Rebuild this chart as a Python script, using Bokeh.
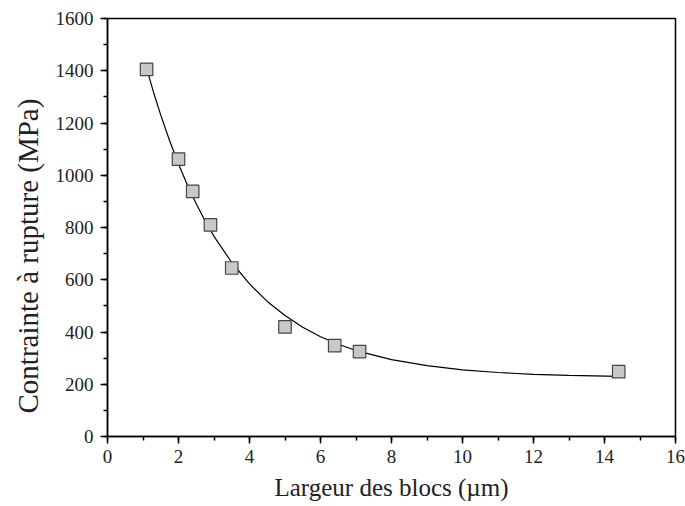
from bokeh.plotting import figure
from bokeh.models import SingleIntervalTicker, Range1d, Title
from bokeh.embed import file_html
from bokeh.resources import INLINE

# Measured points
width_um = [1.1, 2.0, 2.4, 2.9, 3.5, 5.0, 6.4, 7.1, 14.4]
stress_mpa = [1405, 1062, 938, 810, 645, 420, 348, 325, 248]

# Fitted curve
curve_x = [1.1, 1.3, 1.5, 1.75, 2.0, 2.25, 2.5, 2.75, 3.0, 3.5, 4.0, 4.5, 5.0,
           5.5, 6.0, 6.5, 7.0, 8.0, 9.0, 10.0, 11.0, 12.0, 13.0, 14.4]
curve_y = [1410, 1316, 1230, 1132, 1043, 963, 891, 825, 766, 666, 584, 517, 463,
           418, 382, 353, 329, 294, 271, 255, 245, 238, 234, 230]

x_title = "Largeur des blocs (µm)"
y_title = "Contrainte à rupture (MPa)"

FONT = "Liberation Serif"

p = figure(width=685, height=506, output_backend="svg", toolbar_location=None,
           x_range=Range1d(0, 16), y_range=Range1d(0, 1600),
           min_border_left=107, min_border_right=10, min_border_top=18,
           min_border_bottom=70)

p.line(curve_x, curve_y, line_color="black", line_width=1.2)
p.scatter(width_um, stress_mpa, marker="square", size=12.5,
          fill_color="#c8c8c8", line_color="#444444", line_width=1.2)

p.xgrid.visible = False
p.ygrid.visible = False
p.outline_line_color = "black"
p.outline_line_width = 1.5

p.xaxis.ticker = SingleIntervalTicker(interval=2, num_minor_ticks=2)
p.yaxis.ticker = SingleIntervalTicker(interval=200, num_minor_ticks=2)

for ax in (p.xaxis[0], p.yaxis[0]):
    ax.axis_line_width = 1.5
    ax.major_tick_line_width = 1.5
    ax.minor_tick_line_width = 1.5
    ax.major_tick_in = 0
    ax.major_tick_out = 7
    ax.minor_tick_in = 0
    ax.minor_tick_out = 4
    ax.major_label_text_font = FONT
    ax.major_label_text_font_size = "19px"
    ax.major_label_text_color = "#222222"
    ax.axis_label_text_font = FONT
    ax.axis_label_text_font_style = "normal"
    ax.axis_label_text_color = "#222222"

p.xaxis.axis_label_text_font_size = "25px"
p.xaxis.axis_label = x_title
p.xaxis.major_label_standoff = 6
p.yaxis.major_label_standoff = 7
p.xaxis.axis_label_standoff = 8

ytitle = Title(text=y_title, align="left", offset=23, text_font=FONT,
               text_font_size="29px", text_font_style="normal",
               text_color="#222222", standoff=17)
p.add_layout(ytitle, "left")

open("out.html", "w").write(file_html(p, INLINE))
